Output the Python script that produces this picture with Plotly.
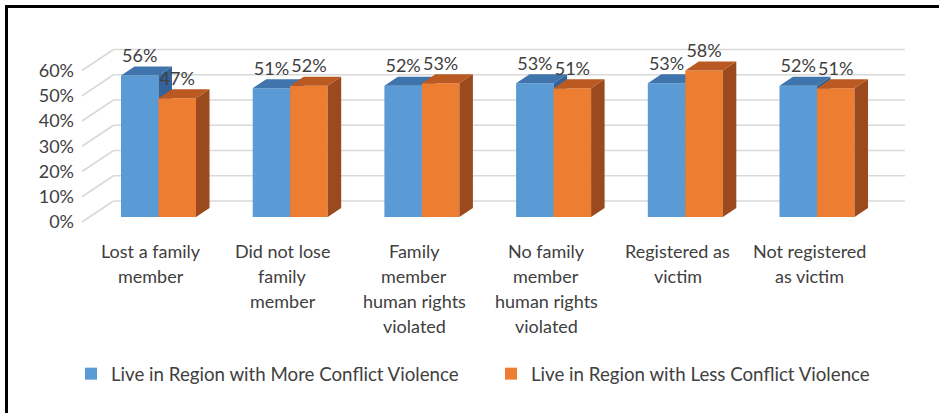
import plotly.graph_objects as go

# ---------------- data ----------------
categories = [
    "Lost a family<br>member",
    "Did not lose<br>family<br>member",
    "Family<br>member<br>human rights<br>violated",
    "No family<br>member<br>human rights<br>violated",
    "Registered as<br>victim",
    "Not registered<br>as victim",
]
more_violence = [56, 51, 52, 53, 53, 52]
less_violence = [47, 52, 53, 51, 58, 51]
series_names = [
    "Live in Region with More Conflict Violence",
    "Live in Region with Less Conflict Violence",
]
y_ticks = [0, 10, 20, 30, 40, 50, 60]

# ---------------- layout constants (pixels) ----------------
W, H = 939, 413
PLOT_L, PLOT_R, PLOT_T, PLOT_B = 80, 915, 30, 232
CAT0_PX, CAT_PX = 158.5, 131.7      # pixel x of first category centre, px per category
ZERO_PX, PCT_PX = 217.0, 2.525      # pixel y of 0 %, px per percent

def ux(px):
    return px / CAT_PX

def uy(px):
    return px / PCT_PX

xr = [(PLOT_L - CAT0_PX) / CAT_PX, (PLOT_R - CAT0_PX) / CAT_PX]
yr = [(ZERO_PX - PLOT_B) / PCT_PX, (ZERO_PX - PLOT_T) / PCT_PX]

BAR_W = ux(37.5)
DEP_X, DEP_Y = ux(13.5), uy(9.0)         # depth of a bar
FRONT_X, FRONT_Y = ux(-7.5), uy(-5.0)    # front edge of the floor
BACK_X, BACK_Y = ux(24.0), uy(16.0)      # back wall
WALL_L, WALL_R = ux(89.5 - CAT0_PX), ux(881 - CAT0_PX)

FONT = "Lato"
TXT = "#404040"
FS = 18

BLUE = dict(front="#5B9BD5", top="#3F74AC", side="#33639A")
ORANGE = dict(front="#ED7D31", top="#BA5A22", side="#9A4A1D")

fig = go.Figure()


def faces(centers, values):
    tx, ty, sx, sy = [], [], [], []
    for c, v in zip(centers, values):
        xl, xrt = c - BAR_W / 2, c + BAR_W / 2
        tx += [xl, xrt, xrt + DEP_X, xl + DEP_X, xl, None]
        ty += [v, v, v + DEP_Y, v + DEP_Y, v, None]
        sx += [xrt, xrt + DEP_X, xrt + DEP_X, xrt, xrt, None]
        sy += [0, DEP_Y, v + DEP_Y, v, 0, None]
    return tx, ty, sx, sy


n = len(categories)
blue_c = [i - BAR_W / 2 for i in range(n)]
orange_c = [i + BAR_W / 2 for i in range(n)]

for values, centers, col, name, xa, ya in [
    (more_violence, blue_c, BLUE, series_names[0], "x", "y"),
    (less_violence, orange_c, ORANGE, series_names[1], "x2", "y2"),
]:
    fig.add_trace(go.Bar(
        x=centers, y=values, width=BAR_W, name=name,
        marker=dict(color=col["front"], line=dict(width=0)),
        xaxis=xa, yaxis=ya, hoverinfo="skip",
    ))
    tx, ty, sx, sy = faces(centers, values)
    fig.add_trace(go.Scatter(
        x=tx, y=ty, mode="lines", fill="toself", fillcolor=col["top"],
        line=dict(width=0, color=col["top"]), showlegend=False,
        xaxis=xa, yaxis=ya, hoverinfo="skip",
    ))
    fig.add_trace(go.Scatter(
        x=sx, y=sy, mode="lines", fill="toself", fillcolor=col["side"],
        line=dict(width=0, color=col["side"]), showlegend=False,
        xaxis=xa, yaxis=ya, hoverinfo="skip",
    ))

# value labels
lab_x = blue_c + orange_c
lab_y = [v + DEP_Y for v in more_violence] + [v + DEP_Y for v in less_violence]
lab_t = [f"{v}%" for v in more_violence] + [f"{v}%" for v in less_violence]
fig.add_trace(go.Scatter(
    x=lab_x, y=lab_y, text=lab_t, mode="text", textposition="top center",
    textfont=dict(family=FONT, size=FS, color=TXT), cliponaxis=False,
    showlegend=False, xaxis="x2", yaxis="y2", hoverinfo="skip",
))

# walls / gridlines
shapes = []
GRID = dict(color="#D9D9D9", width=1.6)
for v in y_ticks:
    shapes.append(dict(type="line", xref="x", yref="y", layer="below",
                       x0=WALL_L + BACK_X, x1=WALL_R + BACK_X,
                       y0=v + BACK_Y, y1=v + BACK_Y, line=GRID))
    shapes.append(dict(type="line", xref="x", yref="y", layer="below",
                       x0=WALL_L + FRONT_X, x1=WALL_L + BACK_X,
                       y0=v + FRONT_Y, y1=v + BACK_Y, line=GRID))

# outer frame (top and left edges) as one open path
pw, ph = PLOT_R - PLOT_L, PLOT_B - PLOT_T
def px2x(px):
    return (px - PLOT_L) / pw
def px2y(py):
    return (PLOT_B - py) / ph
frame_path = (f"M {px2x(945):.5f},{px2y(6.5):.5f} "
              f"L {px2x(6.5):.5f},{px2y(6.5):.5f} "
              f"L {px2x(6.5):.5f},{px2y(420):.5f}")
shapes.append(dict(type="path", xref="paper", yref="paper", path=frame_path,
                   line=dict(color="black", width=3),
                   fillcolor="rgba(0,0,0,0)"))

# category labels, one annotation per line
annotations = []
for i, cat in enumerate(categories):
    for k, line in enumerate(cat.split("<br>")):
        annotations.append(dict(
            x=i + FRONT_X, xref="x", y=0, yref="paper", yanchor="middle",
            yshift=-(19 + 25 * k), text=line, showarrow=False,
            font=dict(family=FONT, size=FS, color=TXT),
        ))

fig.update_layout(
    width=W, height=H,
    margin=dict(l=PLOT_L, r=W - PLOT_R, t=PLOT_T, b=H - PLOT_B, pad=0),
    paper_bgcolor="white", plot_bgcolor="rgba(0,0,0,0)",
    showlegend=True,
    legend=dict(orientation="h", x=px2x(71), xanchor="left",
                y=px2y(374), yanchor="middle",
                entrywidth=375, entrywidthmode="pixels",
                font=dict(family=FONT, size=18.7, color=TXT),
                bgcolor="rgba(0,0,0,0)"),
    xaxis=dict(range=xr, visible=False, fixedrange=True),
    yaxis=dict(range=yr, showgrid=False, zeroline=False, showline=False,
               tickvals=[v + FRONT_Y for v in y_ticks],
               ticktext=[f"{v}%" for v in y_ticks], ticks="",
               ticklabelstandoff=5,
               tickfont=dict(family=FONT, size=FS, color=TXT), fixedrange=True),
    xaxis2=dict(range=xr, visible=False, overlaying="x", fixedrange=True),
    yaxis2=dict(range=yr, visible=False, overlaying="y", fixedrange=True),
    shapes=shapes, annotations=annotations,
    font=dict(family=FONT, size=FS, color=TXT),
)

fig.write_html("out.html",
               config={"displayModeBar": False},
               post_script="document.documentElement.style.margin='0px';"
                           "document.body.style.margin='0px';"
                           "document.documentElement.style.background='white';"
                           "document.body.style.background='white';")
